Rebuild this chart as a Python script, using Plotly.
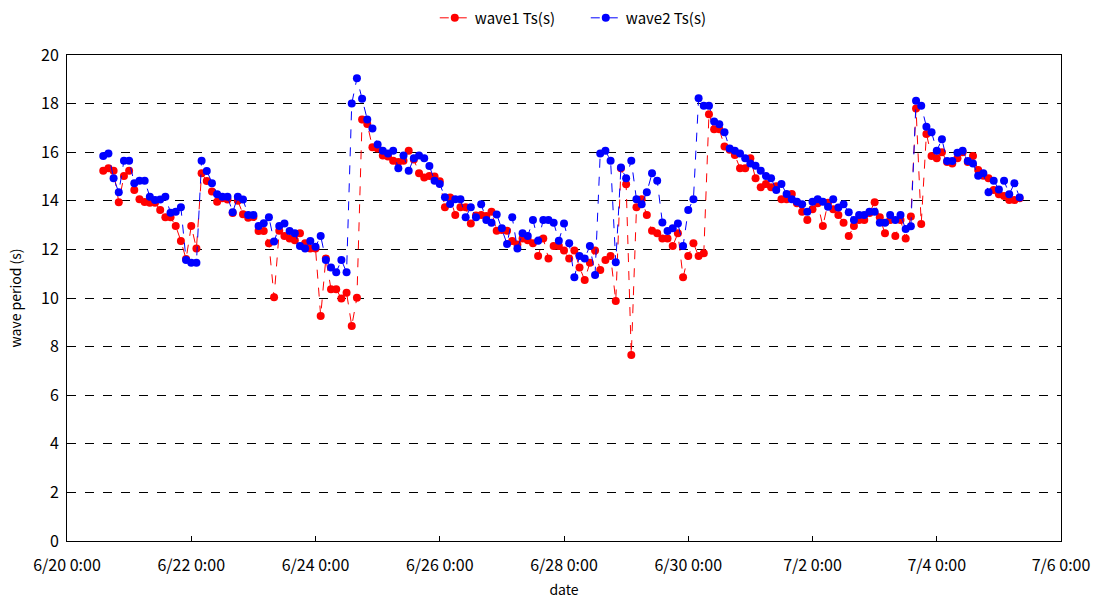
import plotly.graph_objects as go
import pandas as pd

start_time = "2023-06-20 14:00"
step = "2h"

wave1 = [15.24, 15.34, 15.24, 13.94, 15.02, 15.24, 14.44, 14.06, 13.95, 13.92,
         13.92, 13.62, 13.32, 13.32, 12.96, 12.35, 11.6, 12.96, 12.04, 15.13,
         14.81, 14.38, 13.96, 14.1, 14.05, 13.5, 14.0, 13.45, 13.3, 13.33,
         12.76, 12.76, 12.25, 10.03, 12.77, 12.55, 12.45, 12.38, 12.66, 12.25,
         12.04, 12.04, 9.26, 11.63, 10.36, 10.36, 9.98, 10.22, 8.85, 10.01,
         17.35, 17.16, 16.2, 16.15, 15.86, 15.82, 15.65, 15.6, 15.65, 16.06,
         15.7, 15.13, 14.96, 15.02, 15.0, 14.8, 13.73, 14.14, 13.42, 13.73,
         13.73, 13.07, 13.4, 13.42, 13.37, 13.55, 12.77, 12.8, 12.77, 12.35,
         12.2, 12.45, 12.38, 12.25, 11.73, 12.45, 11.63, 12.14, 12.14, 11.95,
         11.63, 11.95, 11.26, 10.74, 11.45, 11.95, 11.15, 11.56, 11.73, 9.88,
         15.34, 14.68, 7.65, 13.73, 14.06, 13.42, 12.77, 12.66, 12.45, 12.45,
         12.14, 12.66, 10.85, 11.73, 12.25, 11.73, 11.84, 17.56, 16.94, 16.94,
         16.23, 16.1, 15.88, 15.34, 15.34, 15.75, 14.93, 14.56, 14.69, 14.56,
         14.6, 14.06, 14.06, 14.28, 13.9, 13.55, 13.21, 13.65, 13.9, 12.96,
         13.92, 13.65, 13.42, 13.1, 12.55, 12.96, 13.21, 13.21, 13.5, 13.94,
         13.32, 12.66, 13.21, 12.55, 13.21, 12.45, 13.35, 17.8, 13.05, 16.75,
         15.84, 15.75, 16.0, 15.6, 15.54, 15.75, 16.0, 15.6, 15.84, 15.27,
         15.03, 14.93, 14.44, 14.27, 14.2, 14.03, 14.03, 14.1]

wave2 = [15.84, 15.95, 14.93, 14.35, 15.65, 15.65, 14.72, 14.83, 14.83, 14.17,
         14.03, 14.05, 14.17, 13.51, 13.55, 13.73, 11.56, 11.45, 11.45, 15.65,
         15.23, 14.72, 14.27, 14.17, 14.17, 13.53, 14.17, 14.05, 13.42, 13.42,
         12.96, 13.08, 13.32, 12.32, 12.96, 13.07, 12.76, 12.66, 12.14, 12.04,
         12.35, 12.11, 12.55, 11.56, 11.26, 11.06, 11.56, 11.06, 18.0, 19.04,
         18.2, 17.35, 16.98, 16.32, 16.06, 15.95, 16.06, 15.34, 15.86, 15.24,
         15.75, 15.86, 15.75, 15.43, 14.83, 14.69, 14.15, 13.87, 14.06, 14.06,
         13.32, 13.73, 13.32, 13.86, 13.21, 13.1, 13.44, 12.87, 12.22, 13.32,
         12.04, 12.66, 12.55, 13.21, 12.36, 13.21, 13.21, 13.1, 12.36, 13.07,
         12.25, 10.85, 11.73, 11.63, 12.14, 10.95, 15.95, 16.06, 15.65, 11.47,
         15.37, 14.93, 15.65, 14.06, 13.86, 14.35, 15.13, 14.83, 13.11, 12.76,
         12.87, 13.07, 12.14, 13.62, 14.06, 18.22, 17.91, 17.91, 17.26, 17.15,
         16.82, 16.15, 16.06, 15.95, 15.75, 15.54, 15.44, 15.24, 15.02, 14.93,
         14.44, 14.69, 14.28, 14.06, 13.96, 13.86, 13.55, 13.96, 14.06, 13.96,
         13.76, 14.06, 13.72, 13.86, 13.53, 13.21, 13.42, 13.42, 13.55, 13.55,
         13.1, 13.1, 13.42, 13.21, 13.42, 12.84, 12.95, 18.12, 17.91, 17.05,
         16.82, 16.06, 16.53, 15.64, 15.64, 15.98, 16.06, 15.64, 15.54, 15.03,
         15.13, 14.35, 14.83, 14.47, 14.83, 14.27, 14.72, 14.14]

times = pd.date_range(start=start_time, periods=len(wave1), freq=step)

y_ticks = [0, 2, 4, 6, 8, 10, 12, 14, 16, 18, 20]

font_family = "Noto Sans CJK JP, Noto Sans, sans-serif"

fig = go.Figure()
fig.add_trace(go.Scatter(
    x=times, y=wave1, name="wave1 Ts(s)", mode="lines+markers",
    line=dict(color="#FF0000", width=1, dash="dash"),
    marker=dict(color="#FF0000", size=8),
))
fig.add_trace(go.Scatter(
    x=times, y=wave2, name="wave2 Ts(s)", mode="lines+markers",
    line=dict(color="#0000FF", width=1, dash="dash"),
    marker=dict(color="#0000FF", size=8),
))

fig.update_layout(
    width=1093, height=599,
    margin=dict(l=67, r=32, t=55, b=58, autoexpand=False),
    paper_bgcolor="white", plot_bgcolor="white",
    font=dict(family=font_family, size=16, color="black"),
    showlegend=True,
    legend=dict(orientation="h", x=0.370, xanchor="left", y=1.076, yanchor="middle",
                font=dict(size=15), bgcolor="rgba(0,0,0,0)",
                entrywidth=106, entrywidthmode="pixels"),
)

fig.update_xaxes(
    type="date",
    range=["2023-06-20 00:00", "2023-07-06 00:00"],
    tick0="2023-06-20 00:00", dtick=2 * 24 * 3600 * 1000,
    tickformat="%-m/%-d %-H:%M",
    ticks="inside", ticklen=5, tickcolor="black",
    ticklabelstandoff=10,
    showline=True, linecolor="black", linewidth=1, mirror=True,
    showgrid=False, zeroline=False,
    title=dict(text="date", standoff=9, font=dict(size=14)),
)
fig.update_yaxes(
    range=[0, 20], tickvals=y_ticks,
    ticks="inside", ticklen=5, tickcolor="black",
    ticklabelstandoff=4,
    showline=True, linecolor="black", linewidth=1, mirror=True,
    showgrid=True, gridcolor="black", gridwidth=1, griddash="dash",
    zeroline=False,
    title=dict(text="wave period (s)", standoff=16, font=dict(size=14)),
)

fig.write_html(
    "out.html",
    config={"displayModeBar": False},
    post_script="document.body.style.margin='0';document.body.style.overflow='hidden';",
)
